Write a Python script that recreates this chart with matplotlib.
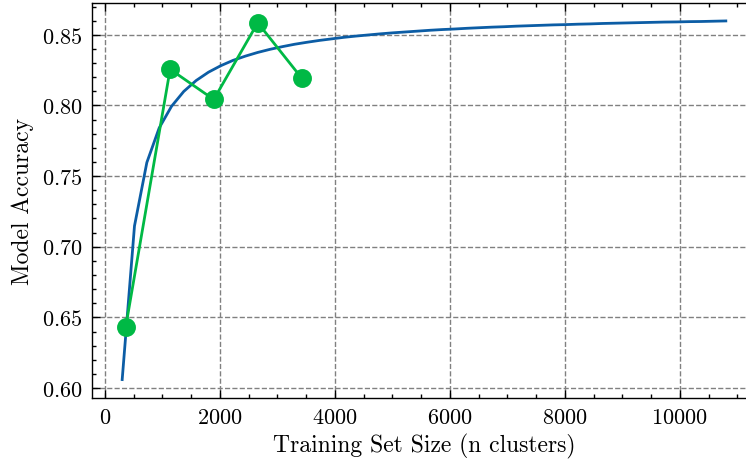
import matplotlib
matplotlib.use('Agg')
import matplotlib.pyplot as plt
from matplotlib.ticker import AutoMinorLocator

# Science-style look (serif, inward ticks on all sides, dashed grid)
plt.rcParams['font.family'] = 'serif'
plt.rcParams['font.serif'] = ['cmr10']
plt.rcParams['mathtext.fontset'] = 'cm'
plt.rcParams['axes.formatter.use_mathtext'] = True
plt.rcParams['font.size'] = 8
plt.rcParams['axes.linewidth'] = 0.5
plt.rcParams['xtick.direction'] = 'in'
plt.rcParams['ytick.direction'] = 'in'
plt.rcParams['xtick.top'] = True
plt.rcParams['ytick.right'] = True
plt.rcParams['xtick.major.size'] = 3
plt.rcParams['ytick.major.size'] = 3
plt.rcParams['xtick.minor.size'] = 1.5
plt.rcParams['ytick.minor.size'] = 1.5
plt.rcParams['xtick.major.width'] = 0.5
plt.rcParams['ytick.major.width'] = 0.5
plt.rcParams['xtick.minor.width'] = 0.5
plt.rcParams['ytick.minor.width'] = 0.5

# Fitted learning curve
fit_size = [300, 514, 729, 943, 1157, 1371, 1586, 1800, 2014, 2229,
            2443, 2657, 2871, 3086, 3300, 3514, 3729, 3943, 4157, 4371,
            4586, 4800, 5014, 5229, 5443, 5657, 5871, 6086, 6300, 6514,
            6729, 6943, 7157, 7371, 7586, 7800, 8014, 8229, 8443, 8657,
            8871, 9086, 9300, 9514, 9729, 9943, 10157, 10371, 10586, 10800]
fit_acc = [0.6060, 0.7147, 0.7596, 0.7840, 0.7993, 0.8099, 0.8176, 0.8235, 0.8281, 0.8319,
           0.8349, 0.8375, 0.8397, 0.8416, 0.8433, 0.8447, 0.8460, 0.8471, 0.8482, 0.8491,
           0.8499, 0.8507, 0.8514, 0.8520, 0.8526, 0.8532, 0.8537, 0.8541, 0.8546, 0.8550,
           0.8554, 0.8557, 0.8561, 0.8564, 0.8567, 0.8570, 0.8572, 0.8575, 0.8577, 0.8580,
           0.8582, 0.8584, 0.8586, 0.8588, 0.8590, 0.8591, 0.8593, 0.8594, 0.8596, 0.8598]

# Measured points
train_size = [362, 1134, 1893, 2658, 3421]
accuracy = [0.6434, 0.8256, 0.8042, 0.8585, 0.8194]

fig = plt.figure(figsize=(3.73, 2.3), dpi=200)
ax = fig.add_axes([92 / 746, 1 - 398.5 / 460, (756 - 92) / 746, (398.5 - 4) / 460])

ax.plot(fit_size, fit_acc, color='#0C5DA5', linewidth=1.0)
ax.plot(train_size, accuracy, color='#00B945', linewidth=1.0, marker='o', markersize=5.8)

ax.set_xlabel('Training Set Size (n clusters)', fontsize=8.5, labelpad=2.2)
ax.set_ylabel('Model Accuracy', fontsize=8.5, labelpad=2.7)
ax.set_xticks([0, 2000, 4000, 6000, 8000, 10000])
ax.set_yticks([0.60, 0.65, 0.70, 0.75, 0.80, 0.85])
ax.xaxis.set_minor_locator(AutoMinorLocator(4))
ax.yaxis.set_minor_locator(AutoMinorLocator(5))

ax.grid(True, which='major', linestyle='--', linewidth=0.5, color='gray')

plt.savefig('out.png', dpi=200)
